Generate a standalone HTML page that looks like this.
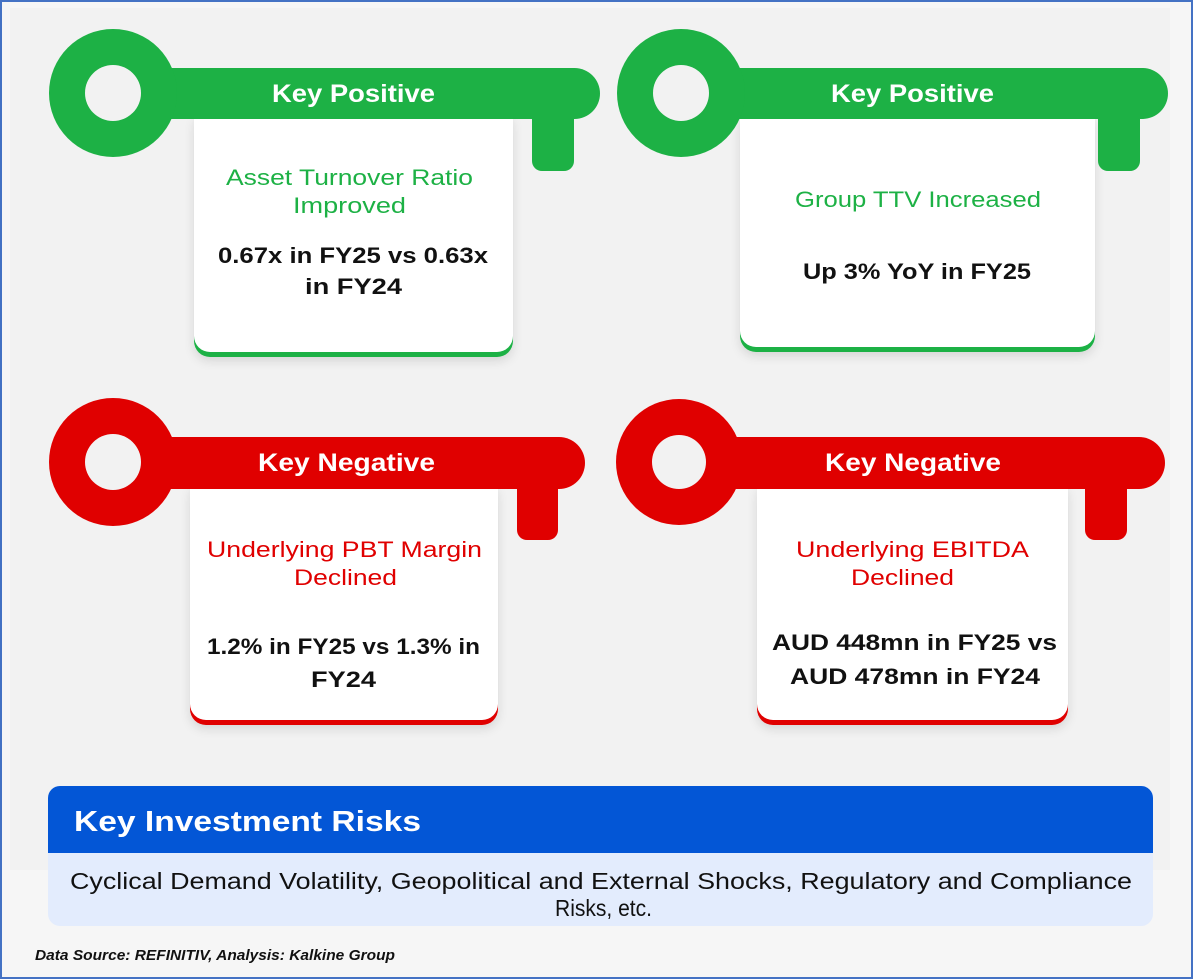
<!DOCTYPE html>
<html><head><meta charset="utf-8"><style>
html,body{margin:0;padding:0;}
body{width:1193px;height:979px;background:#f6f6f6;font-family:"Liberation Sans",sans-serif;overflow:hidden;}
svg{display:block;}
</style></head><body>
<svg width="1193" height="979" xmlns="http://www.w3.org/2000/svg">
<defs>
<filter id="sh" x="-10%" y="-10%" width="120%" height="130%"><feDropShadow dx="0" dy="4" stdDeviation="5" flood-color="#000" flood-opacity="0.12"/></filter>
</defs>
<rect x="1" y="1" width="1191" height="977" fill="#f6f6f6" stroke="#4472c4" stroke-width="2"/>
<rect x="10" y="8" width="1160" height="862" fill="#f2f2f2"/>

<g>
<rect x="194" y="110" width="319" height="247" rx="16" fill="#1db145" filter="url(#sh)"/>
<rect x="194" y="110" width="319" height="242" rx="16" fill="#fff"/>
<rect x="194" y="110" width="319" height="30" fill="#fff"/>
<rect x="532" y="100" width="42" height="71" rx="10" fill="#1db145"/>
<rect x="113" y="68" width="487" height="51" rx="25.5" fill="#1db145"/>
<circle cx="113" cy="93" r="64" fill="#1db145"/>
<circle cx="113" cy="93" r="28" fill="#f2f2f2"/>
<text x="272" y="102" textLength="163" lengthAdjust="spacingAndGlyphs" font-size="25" font-weight="bold" fill="#fff">Key Positive</text>
<text x="226" y="185" textLength="247" lengthAdjust="spacingAndGlyphs" font-size="22" fill="#1db145">Asset Turnover Ratio</text>
<text x="293" y="213" textLength="113" lengthAdjust="spacingAndGlyphs" font-size="22" fill="#1db145">Improved</text>
<text x="218" y="263" textLength="270" lengthAdjust="spacingAndGlyphs" font-size="22" font-weight="bold" fill="#111">0.67x in FY25 vs 0.63x</text>
<text x="305" y="294" textLength="97" lengthAdjust="spacingAndGlyphs" font-size="22" font-weight="bold" fill="#111">in FY24</text>
</g>

<g>
<rect x="740" y="110" width="355" height="242" rx="16" fill="#1db145" filter="url(#sh)"/>
<rect x="740" y="110" width="355" height="237" rx="16" fill="#fff"/>
<rect x="740" y="110" width="355" height="30" fill="#fff"/>
<rect x="1098" y="100" width="42" height="71" rx="10" fill="#1db145"/>
<rect x="681" y="68" width="487" height="51" rx="25.5" fill="#1db145"/>
<circle cx="681" cy="93" r="64" fill="#1db145"/>
<circle cx="681" cy="93" r="28" fill="#f2f2f2"/>
<text x="831" y="102" textLength="163" lengthAdjust="spacingAndGlyphs" font-size="25" font-weight="bold" fill="#fff">Key Positive</text>
<text x="795" y="207" textLength="246" lengthAdjust="spacingAndGlyphs" font-size="22" fill="#1db145">Group TTV Increased</text>
<text x="803" y="279" textLength="228" lengthAdjust="spacingAndGlyphs" font-size="22" font-weight="bold" fill="#111">Up 3% YoY in FY25</text>
</g>

<g>
<rect x="190" y="480" width="308" height="245" rx="16" fill="#e00000" filter="url(#sh)"/>
<rect x="190" y="480" width="308" height="240" rx="16" fill="#fff"/>
<rect x="190" y="480" width="308" height="30" fill="#fff"/>
<rect x="517" y="470" width="41" height="70" rx="10" fill="#e00000"/>
<rect x="113" y="437" width="472" height="52" rx="26" fill="#e00000"/>
<circle cx="113" cy="462" r="64" fill="#e00000"/>
<circle cx="113" cy="462" r="28" fill="#f2f2f2"/>
<text x="258" y="471" textLength="177" lengthAdjust="spacingAndGlyphs" font-size="25" font-weight="bold" fill="#fff">Key Negative</text>
<text x="207" y="557" textLength="275" lengthAdjust="spacingAndGlyphs" font-size="22" fill="#e00000">Underlying PBT Margin</text>
<text x="294" y="585" textLength="103" lengthAdjust="spacingAndGlyphs" font-size="22" fill="#e00000">Declined</text>
<text x="207" y="654" textLength="273" lengthAdjust="spacingAndGlyphs" font-size="22" font-weight="bold" fill="#111">1.2% in FY25 vs 1.3% in</text>
<text x="311" y="687" textLength="65" lengthAdjust="spacingAndGlyphs" font-size="22" font-weight="bold" fill="#111">FY24</text>
</g>

<g>
<rect x="757" y="480" width="311" height="245" rx="16" fill="#e00000" filter="url(#sh)"/>
<rect x="757" y="480" width="311" height="240" rx="16" fill="#fff"/>
<rect x="757" y="480" width="311" height="30" fill="#fff"/>
<rect x="1085" y="470" width="42" height="70" rx="10" fill="#e00000"/>
<rect x="679" y="437" width="486" height="52" rx="26" fill="#e00000"/>
<circle cx="679" cy="462" r="63" fill="#e00000"/>
<circle cx="679" cy="462" r="27" fill="#f2f2f2"/>
<text x="825" y="471" textLength="176" lengthAdjust="spacingAndGlyphs" font-size="25" font-weight="bold" fill="#fff">Key Negative</text>
<text x="796" y="557" textLength="233" lengthAdjust="spacingAndGlyphs" font-size="22" fill="#e00000">Underlying EBITDA</text>
<text x="851" y="585" textLength="103" lengthAdjust="spacingAndGlyphs" font-size="22" fill="#e00000">Declined</text>
<text x="772" y="650" textLength="285" lengthAdjust="spacingAndGlyphs" font-size="22" font-weight="bold" fill="#111">AUD 448mn in FY25 vs</text>
<text x="790" y="684" textLength="250" lengthAdjust="spacingAndGlyphs" font-size="22" font-weight="bold" fill="#111">AUD 478mn in FY24</text>
</g>

<g>
<rect x="48" y="786" width="1105" height="140" rx="12" fill="#e3ecfd"/>
<path d="M48 853 V798 a12 12 0 0 1 12 -12 H1141 a12 12 0 0 1 12 12 V853 Z" fill="#0356d6"/>
<text x="74" y="831" textLength="347" lengthAdjust="spacingAndGlyphs" font-size="29" font-weight="bold" fill="#fff">Key Investment Risks</text>
<text x="70" y="889" textLength="1062" lengthAdjust="spacingAndGlyphs" font-size="23" fill="#111">Cyclical Demand Volatility, Geopolitical and External Shocks, Regulatory and Compliance</text>
<text x="555" y="916" textLength="97" lengthAdjust="spacingAndGlyphs" font-size="23" fill="#111">Risks,  etc.</text>
</g>
<text x="35" y="960" textLength="360" lengthAdjust="spacingAndGlyphs" font-size="15" font-weight="bold" font-style="italic" fill="#111">Data Source: REFINITIV, Analysis: Kalkine Group</text>
</svg>
</body></html>
